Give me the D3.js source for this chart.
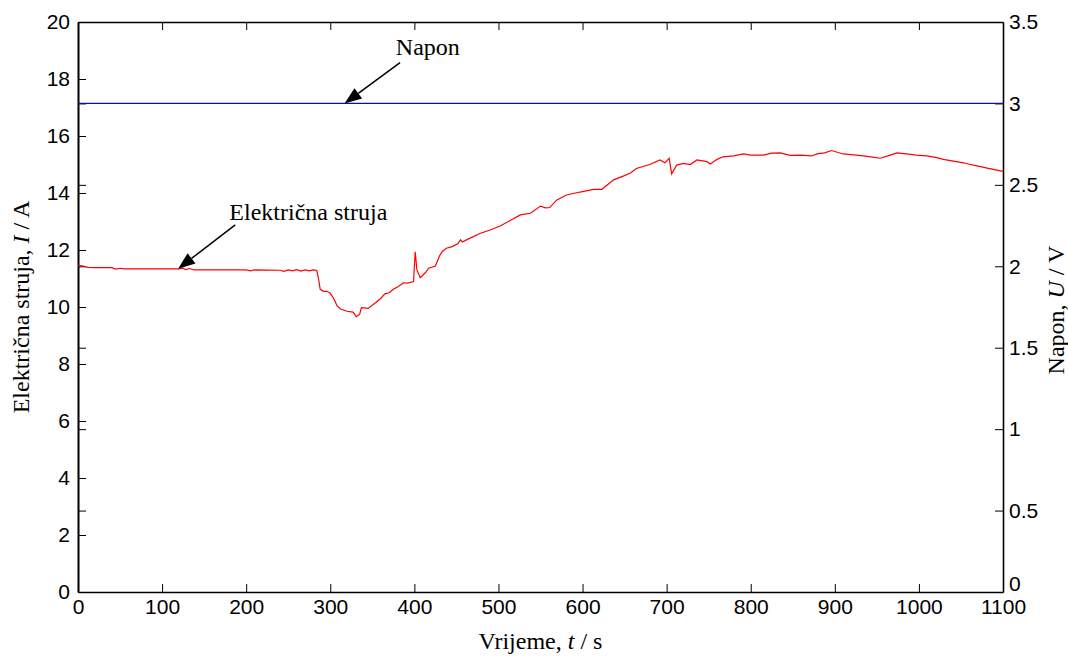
<!DOCTYPE html>
<html>
<head>
<meta charset="utf-8">
<script src="https://cdnjs.cloudflare.com/ajax/libs/d3/7.8.5/d3.min.js"></script>
<style>
  body { margin: 0; background: #fff; }
  svg { display: block; }
  .tick text { font-family: "Liberation Sans", Arial, sans-serif; font-size: 21px; fill: #000; }
  .title { font-family: "Liberation Serif", "Times New Roman", serif; font-size: 24px; fill: #000; }
</style>
</head>
<body>
<div id="chart"></div>
<script>
const WIDTH = 1068, HEIGHT = 658
var margin = {top: 22, right: 65, bottom: 66, left: 78},
    width = WIDTH - margin.left - margin.right,
    height = HEIGHT - margin.top - margin.bottom;

// current (red)
var timeI = [0, 5, 12, 20, 40, 45, 50, 55, 120, 125, 128, 133, 138, 200, 205, 210, 240, 245, 250, 255,
  260, 265, 270, 275, 280, 284, 286, 288, 292, 296, 300, 304, 308, 312, 320, 327, 331, 335, 337, 345,
  353, 360, 365, 370, 375, 380, 387, 392, 399, 401, 403, 407, 413, 417, 425, 430, 433, 438, 445, 452,
  455, 457, 465, 478, 490, 502, 515, 526, 538, 550, 556, 561, 569, 581, 593, 600, 613, 623, 637, 649,
  657, 664, 680, 692, 698, 703, 706, 712, 720, 728, 736, 748, 752, 760, 767, 780, 791, 800, 815, 825,
  835, 847, 860, 872, 880, 888, 896, 910, 934, 945, 954, 965, 974, 985, 997, 1009, 1020, 1029, 1041, 1053,
  1060, 1069, 1080, 1090, 1100]
var current = [11.45, 11.44, 11.39, 11.38, 11.38, 11.33, 11.36, 11.34, 11.34, 11.36, 11.31, 11.35, 11.30, 11.30, 11.27, 11.30, 11.29, 11.25, 11.30, 11.27,
  11.31, 11.26, 11.30, 11.27, 11.30, 11.28, 11.00, 10.62, 10.55, 10.55, 10.48, 10.30, 10.05, 9.93, 9.85, 9.82, 9.66, 9.75, 9.98, 9.95,
  10.13, 10.30, 10.46, 10.50, 10.62, 10.70, 10.85, 10.84, 10.89, 11.94, 11.30, 11.03, 11.20, 11.36, 11.44, 11.80, 11.94, 12.06, 12.12, 12.23,
  12.36, 12.28, 12.40, 12.58, 12.70, 12.84, 13.05, 13.23, 13.29, 13.54, 13.48, 13.49, 13.75, 13.93, 14.01, 14.05, 14.13, 14.13, 14.46, 14.60,
  14.70, 14.86, 15.00, 15.16, 15.06, 15.22, 14.67, 14.98, 15.04, 15.00, 15.16, 15.10, 15.02, 15.18, 15.27, 15.30, 15.37, 15.33, 15.33, 15.40,
  15.41, 15.32, 15.33, 15.30, 15.38, 15.41, 15.49, 15.37, 15.30, 15.26, 15.22, 15.32, 15.41, 15.37, 15.33, 15.30, 15.25, 15.18, 15.12, 15.06,
  15.01, 14.95, 14.88, 14.82, 14.76]

// voltage (blue), constant
var timeU = [0, 1100]
var voltage = [3, 3]

var xTicks = [0, 100, 200, 300, 400, 500, 600, 700, 800, 900, 1000, 1100]
var iTicks = [0, 2, 4, 6, 8, 10, 12, 14, 16, 18, 20]
var uTicks = [0, 0.5, 1, 1.5, 2, 2.5, 3, 3.5]

var svg = d3.select("#chart")
  .append("svg")
  .attr("width", WIDTH)
  .attr("height", HEIGHT)
  .append("g")
  .attr("transform", "translate(" + margin.left + "," + margin.top + ")");

var x = d3.scaleLinear().domain([0, 1100]).range([0, width])
var yI = d3.scaleLinear().domain([0, 20]).range([height, 0])
var yU = d3.scaleLinear().domain([0, 3.5]).range([height, 0])

var TL = 8 // inward tick length

// bottom axis, ticks pointing up
var bottom = svg.append("g")
  .attr("transform", "translate(0," + height + ")")
  .call(d3.axisBottom(x).tickValues(xTicks).tickSizeInner(-TL).tickSizeOuter(0).tickPadding(5).tickFormat(d3.format("d")))
bottom.selectAll(".tick text").attr("dy", "0.8em")

// top axis, ticks only
svg.append("g")
  .call(d3.axisTop(x).tickValues(xTicks.slice(1, -1)).tickSizeInner(-TL).tickSizeOuter(0).tickFormat(""))

// left axis, own ticks + mirrored voltage ticks
svg.append("g")
  .call(d3.axisLeft(yI).tickValues(iTicks).tickSizeInner(-TL).tickSizeOuter(0).tickPadding(8).tickFormat(d3.format("d")))
svg.append("g")
  .call(d3.axisLeft(yU).tickValues(uTicks.slice(1, -1)).tickSizeInner(-TL).tickSizeOuter(0).tickFormat(""))

// right axis
var right = svg.append("g")
  .attr("transform", "translate(" + width + ",0)")
  .call(d3.axisRight(yU).tickValues(uTicks).tickSizeInner(-TL).tickSizeOuter(0).tickPadding(6).tickFormat(d => d))

svg.selectAll(".domain").attr("stroke", "#000").attr("stroke-width", 1.6)
svg.selectAll(".tick line").attr("stroke", "#000").attr("stroke-width", 1)

// the "0" on the right sits a little higher in the original
right.selectAll(".tick text").filter(d => d === 0).attr("dy", "-0.05em")

// lines
var lineI = d3.line().x((d, i) => x(timeI[i])).y(d => yI(d))
svg.append("path")
  .attr("d", lineI(current))
  .attr("fill", "none")
  .attr("stroke", "#ff0000")
  .attr("stroke-width", 1.2)

var lineU = d3.line().x((d, i) => x(timeU[i])).y(d => yU(d))
svg.append("path")
  .attr("d", lineU(voltage))
  .attr("fill", "none")
  .attr("stroke", "#1010a0")
  .attr("stroke-width", 1.2)

// arrows with filled heads
function arrow(x1, y1, x2, y2){
  var ang = Math.atan2(y2 - y1, x2 - x1)
  var len = 17, half = 6.5
  var bx = x2 - len * Math.cos(ang), by = y2 - len * Math.sin(ang)
  svg.append("line")
    .attr("x1", x1).attr("y1", y1).attr("x2", bx).attr("y2", by)
    .attr("stroke", "#000").attr("stroke-width", 1.5)
  var pts = [[x2, y2],
    [bx + half * Math.sin(ang), by - half * Math.cos(ang)],
    [bx - half * Math.sin(ang), by + half * Math.cos(ang)]]
  svg.append("path").attr("d", "M" + pts.join("L") + "Z").attr("fill", "#000")
}

// Napon annotation
arrow(x(383), yU(3.25), x(317), yU(3))
svg.append("text").attr("class", "title")
  .attr("x", x(416)).attr("y", yU(3.3))
  .attr("text-anchor", "middle")
  .text("Napon")

// current annotation
arrow(x(187), yI(12.88), x(119), yI(11.34))
svg.append("text").attr("class", "title")
  .attr("x", x(180)).attr("y", yI(13.05))
  .attr("text-anchor", "start")
  .text("Električna struja")

// axis titles
var xt = svg.append("text").attr("class", "title")
  .attr("x", width / 2).attr("y", height + 57)
  .attr("text-anchor", "middle")
xt.append("tspan").text("Vrijeme, ")
xt.append("tspan").attr("font-style", "italic").text("t")
xt.append("tspan").text(" / s")

var yt = svg.append("text").attr("class", "title")
  .attr("transform", "translate(" + (-49) + "," + (height / 2) + ") rotate(-90)")
  .attr("text-anchor", "middle")
yt.append("tspan").text("Električna struja, ")
yt.append("tspan").attr("font-style", "italic").text("I")
yt.append("tspan").text(" / A")

var yt2 = svg.append("text").attr("class", "title")
  .attr("transform", "translate(" + (width + 61) + "," + (height / 2 + 3) + ") rotate(-90)")
  .attr("text-anchor", "middle")
yt2.append("tspan").text("Napon, ")
yt2.append("tspan").attr("font-style", "italic").text("U")
yt2.append("tspan").text(" / V")
</script>
</body>
</html>
